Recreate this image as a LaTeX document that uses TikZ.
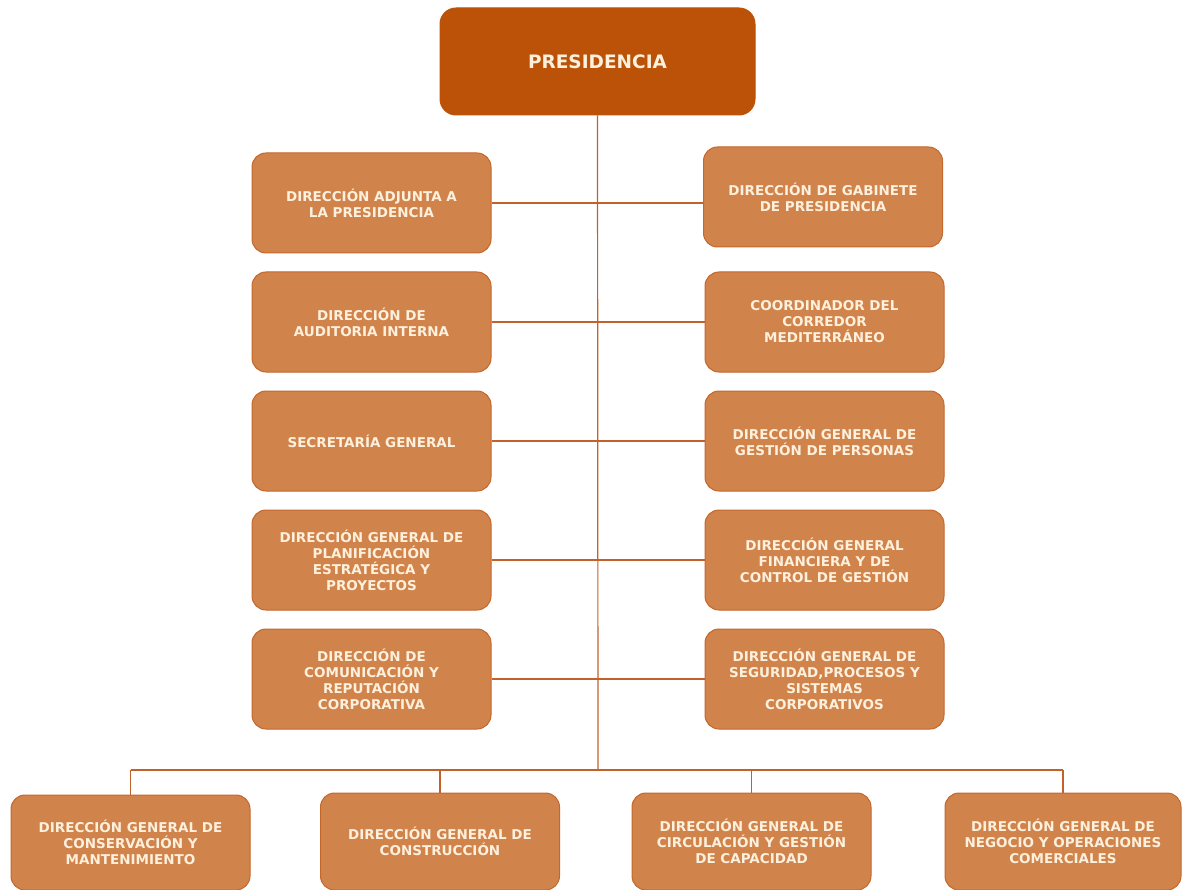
\documentclass[tikz,border=0pt]{standalone}
\usepackage{fontspec}
\newfontfamily\boxfont{DejaVu Sans}
\definecolor{presfill}{HTML}{BB5208}
\definecolor{boxfill}{HTML}{D1834C}
\definecolor{boxdraw}{HTML}{C5662A}
\definecolor{linec}{HTML}{C0622A}
\definecolor{textc}{HTML}{FDF0DC}
\tikzset{
  orgbox/.style={rounded corners=14pt, fill=boxfill, draw=boxdraw, line width=1pt,
    minimum width=239pt, minimum height=100pt, inner sep=0pt, align=center,
    text=textc, font=\boxfont\bfseries\fontsize{13.5}{16}\selectfont},
  presbox/.style={orgbox, fill=presfill, draw=presfill, minimum width=315pt, minimum height=107pt,
    rounded corners=16pt, font=\boxfont\bfseries\fontsize{18.5}{21}\selectfont},
  conn/.style={draw=linec, line width=1.2pt}
}
\begin{document}
\begin{tikzpicture}[x=1pt,y=-1pt]
\useasboundingbox (0,0) rectangle (1182,890);
\node[presbox] (pres) at (597.5,61.5) {PRESIDENCIA};
% left column
\node[orgbox] (l1) at (371.5,203) {DIRECCIÓN ADJUNTA A\\ LA PRESIDENCIA};
\node[orgbox] (l2) at (371.5,322) {DIRECCIÓN DE\\AUDITORIA INTERNA};
\node[orgbox] (l3) at (371.5,441) {SECRETARÍA GENERAL};
\node[orgbox] (l4) at (371.5,560) {DIRECCIÓN GENERAL DE\\PLANIFICACIÓN\\ESTRATÉGICA Y\\PROYECTOS};
\node[orgbox] (l5) at (371.5,679) {DIRECCIÓN DE\\COMUNICACIÓN Y\\REPUTACIÓN\\CORPORATIVA};
% right column
\node[orgbox] (r1) at (823,197) {DIRECCIÓN DE GABINETE\\DE PRESIDENCIA};
\node[orgbox] (r2) at (824.5,322) {COORDINADOR DEL\\CORREDOR\\MEDITERRÁNEO};
\node[orgbox] (r3) at (824.5,441) {DIRECCIÓN GENERAL DE\\GESTIÓN DE PERSONAS};
\node[orgbox] (r4) at (824.5,560) {DIRECCIÓN GENERAL\\FINANCIERA Y DE\\CONTROL DE GESTIÓN};
\node[orgbox] (r5) at (824.5,679) {DIRECCIÓN GENERAL DE\\SEGURIDAD,PROCESOS Y\\SISTEMAS\\CORPORATIVOS};
% bottom row
\node[orgbox, minimum height=95pt] (b1) at (130.5,842.5) {DIRECCIÓN GENERAL DE\\CONSERVACIÓN Y\\MANTENIMIENTO};
\node[orgbox, minimum height=97pt] (b2) at (440,841.5) {DIRECCIÓN GENERAL DE\\CONSTRUCCIÓN};
\node[orgbox, minimum height=97pt] (b3) at (751.5,841.5) {DIRECCIÓN GENERAL DE\\CIRCULACIÓN Y GESTIÓN\\DE CAPACIDAD};
\node[orgbox, minimum height=97pt, minimum width=236pt] (b4) at (1063,841.5) {DIRECCIÓN GENERAL DE\\NEGOCIO Y OPERACIONES\\COMERCIALES};
% trunk and bus
\coordinate (bus) at (598,770);
\coordinate (busL) at (b1.north |- bus);
\coordinate (busR) at (b4.north |- bus);
\draw[conn] (pres.south) -- (bus);
\draw[conn] (busL) -- (busR);
\foreach \b in {b1,b2,b3,b4} \draw[conn] (\b.north |- bus) -- (\b.north);
% side connectors
\foreach \i in {1,...,5} {
  \draw[conn] (l\i.east) -- (l\i.east -| pres.south);
  \draw[conn] (l\i.east -| pres.south) -- (l\i.east -| r\i.west);
}
\end{tikzpicture}
\end{document}
